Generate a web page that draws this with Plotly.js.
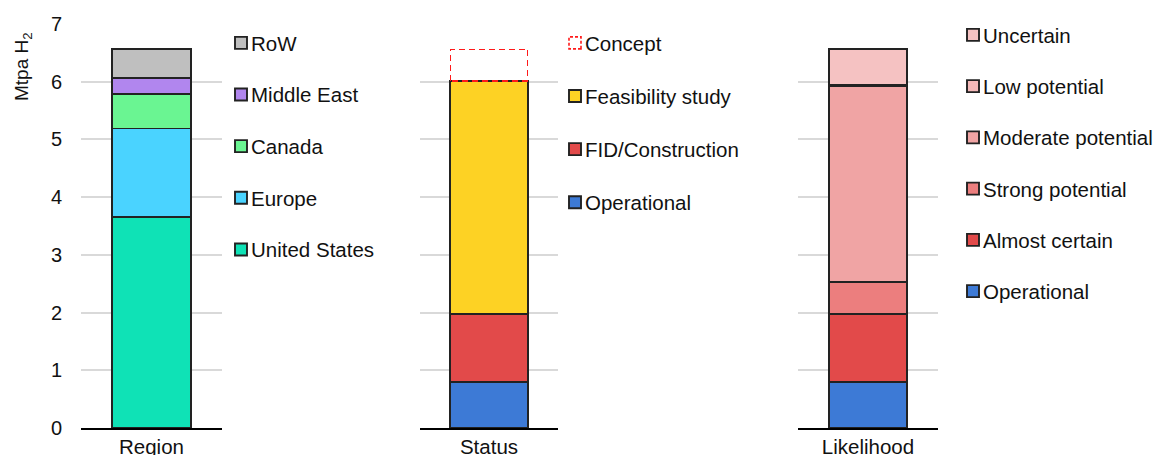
<!DOCTYPE html>
<html>
<head>
<meta charset="utf-8">
<script src="https://cdn.plot.ly/plotly-3.0.1.min.js"></script>
<style>html,body{margin:0;padding:0;background:#fff;}#chart{width:1158px;height:455px;}</style>
</head>
<body>
<div id="chart"></div>
<script>
// ---- data ----
const panelLabels = ["Region", "Status", "Likelihood"];

const regionNames  = ["United States", "Europe", "Canada", "Middle East", "RoW"];
const regionValues = [3.66, 1.53, 0.60, 0.27, 0.50];
const regionColors = ["#0FE2B6", "#4AD3FF", "#6AF592", "#B186EE", "#BFBFBF"];

const statusNames  = ["Operational", "FID/Construction", "Feasibility study", "Concept"];
const statusValues = [0.80, 1.17, 4.04, 0.55];
const statusColors = ["#3D7AD6", "#E24A4A", "#FDD224", "rgba(0,0,0,0)"];

const likeNames  = ["Operational", "Almost certain", "Strong potential", "Moderate potential", "Low potential", "Uncertain"];
const likeValues = [0.80, 1.17, 0.56, 3.40, 0.02, 0.61];
const likeColors = ["#3D7AD6", "#E24A4A", "#EC7E7E", "#F0A4A4", "#F4B9B9", "#F5C2C2"];

const yTicks = [0, 1, 2, 3, 4, 5, 6, 7];

// ---- traces ----
const traces = [];
function addPanel(names, values, colors, label, axisIdx, legendName) {
  names.forEach((n, i) => {
    const isConcept = n === "Concept";
    traces.push({
      type: "bar",
      name: n,
      x: [label],
      y: [values[i]],
      width: 0.56,
      xaxis: axisIdx === 1 ? "x" : "x" + axisIdx,
      yaxis: axisIdx === 1 ? "y" : "y" + axisIdx,
      legend: legendName,
      legendgroup: legendName + "_" + i,
      legendrank: 100 - i,
      marker: {
        color: colors[i],
        line: { color: isConcept ? "#FF1A1A" : "#222222", width: isConcept ? 1.6 : 1.9 }
      },
      hoverinfo: "name+y"
    });
  });
}
addPanel(regionNames, regionValues, regionColors, panelLabels[0], 1, "legend");
addPanel(statusNames, statusValues, statusColors, panelLabels[1], 2, "legend2");
addPanel(likeNames, likeValues, likeColors, panelLabels[2], 3, "legend3");

// ---- layout ----
const W = 1158, H = 455, L = 81, R = 0, T = 24, B = 27;
const PW = W - L - R, PH = H - T - B;
function dom(a, b) { return [(a - L) / PW, (b - L) / PW]; }
function px(xp) { return (xp - L) / PW; }
function py(yp) { return 1 - (yp - T) / PH; }

const font = { family: "Liberation Sans, Arial, sans-serif", size: 20.5, color: "#111" };
const xBase = {
  type: "category", showline: true, linecolor: "#000", linewidth: 1.5,
  ticks: "", showgrid: false, zeroline: false, fixedrange: true,
  tickfont: { size: 20.5, color: "#111" }
};
const yBase = {
  range: [0, 7], tickvals: yTicks, showgrid: true, gridcolor: "#D9D9D9", gridwidth: 1.5,
  zeroline: false, showline: false, fixedrange: true
};
const legendBase = {
  xanchor: "left", yanchor: "top", maxheight: 455,
  traceorder: "grouped", bgcolor: "rgba(0,0,0,0)",
  font: { size: 20.5, color: "#111" }, itemclick: false, itemdoubleclick: false
};

const layout = {
  width: W, height: H,
  margin: { l: L, r: R, t: T, b: B, autoexpand: false },
  paper_bgcolor: "#fff", plot_bgcolor: "#fff",
  font: font,
  barmode: "stack",
  showlegend: true,
  xaxis:  Object.assign({}, xBase, { domain: dom(81, 222), anchor: "y" }),
  xaxis2: Object.assign({}, xBase, { domain: dom(420, 558), anchor: "y2" }),
  xaxis3: Object.assign({}, xBase, { domain: dom(798, 938), anchor: "y3" }),
  yaxis:  Object.assign({}, yBase, { anchor: "x", ticklabelstandoff: 18, tickfont: { size: 20, color: "#111" } }),
  yaxis2: Object.assign({}, yBase, { anchor: "x2", matches: "y", showticklabels: false }),
  yaxis3: Object.assign({}, yBase, { anchor: "x3", matches: "y", showticklabels: false }),
  legend:  Object.assign({}, legendBase, { x: px(211), y: py(23), tracegroupgap: 22 }),
  legend2: Object.assign({}, legendBase, { x: px(545), y: py(23), tracegroupgap: 23.5 }),
  legend3: Object.assign({}, legendBase, { x: px(943), y: py(15), tracegroupgap: 21.6 }),
  annotations: [{
    text: "Mtpa H<sub>2</sub>", textangle: -90, showarrow: false,
    xref: "paper", yref: "paper", x: px(23), y: py(67),
    xanchor: "center", yanchor: "middle", font: { size: 19, color: "#111" }
  }]
};

Plotly.newPlot("chart", traces, layout, { displayModeBar: false }).then(gd => {
  gd.querySelectorAll(".trace.bars").forEach(el => {
    const d = el.__data__;
    if (d && d[0] && d[0].trace && d[0].trace.name === "Concept") {
      el.querySelectorAll("path").forEach(p => p.style.strokeDasharray = "6,4");
    }
  });
  gd.querySelectorAll(".legend .traces, .legend2 .traces, .legend3 .traces").forEach(el => {
    const d = el.__data__;
    // bring the swatch closer to its label, as in the reference
    el.querySelectorAll(".legendpoints").forEach(g => g.setAttribute("transform", "translate(10,0)"));
    if (d && d[0] && d[0].trace && d[0].trace.name === "Concept") {
      el.querySelectorAll(".legendpoints path").forEach(p => p.style.strokeDasharray = "3,2");
    }
  });
});
</script>
</body>
</html>
